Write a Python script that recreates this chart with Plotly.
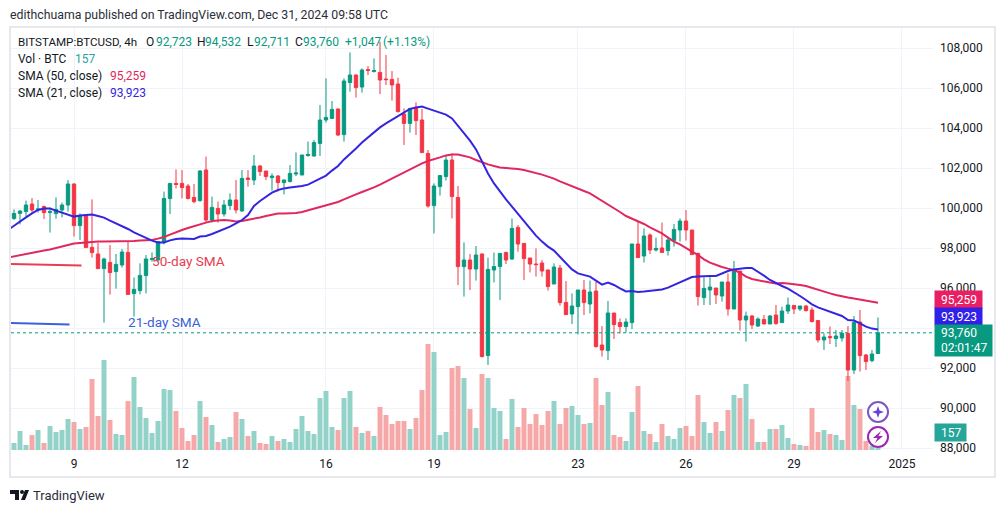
import pandas as pd
import plotly.graph_objects as go

opens = [99480,99730,99820,100200,99920,100070,99780,99720,99900,100150,101200,99120,99620,98030,97700,96970,97280,96820,97150,97780,95720,95870,96620,97430,97400,98300,100470,101230,101230,101100,100530,100370,101900,99400,99980,99700,100120,100400,99850,101500,101400,102100,101850,101520,101600,101270,101330,101700,101650,102620,102600,103230,104400,104480,104950,103670,106270,106650,106050,106920,106820,106780,106450,106430,106200,104700,104230,105030,104400,102730,100120,101070,101570,102400,100530,97070,97400,96950,97700,92620,96900,97070,97770,97450,99030,98230,97500,97200,97250,96900,96200,97000,95280,94700,95070,95900,95200,95850,93150,92870,94750,94270,94070,94270,98200,97600,98650,97900,98000,97870,98370,98900,99350,98900,97730,95520,95900,96000,95600,96300,94950,96850,94400,94600,94100,94430,94200,94650,94270,94850,95130,94950,95100,94900,94370,93400,93570,93470,93500,93730,91900,94300,92650,92370,92723]
highs = [99930,99900,100370,100500,100400,100120,100020,100530,100270,101400,101230,99730,99650,100430,98270,97520,98150,97700,97950,98320,96530,97230,97650,97780,98350,100820,101230,101930,101900,101200,101200,101900,102570,100570,100320,100400,100730,101400,101900,101900,102650,102150,101850,101730,101650,101430,102150,102780,102650,103320,103400,105150,106480,105350,104980,106480,107780,106680,106980,107100,107480,108320,107650,106850,106520,104980,104980,105280,104950,102900,101230,101650,102650,102730,101100,98280,97700,98100,97730,97520,97770,97730,97820,99480,99150,98230,97500,97980,97400,96930,97230,97150,96350,95730,95900,96400,96370,96320,94100,95350,94750,94480,94480,98200,99320,98980,98730,98520,99270,98570,99200,99480,99900,98900,97770,96530,96570,96000,96300,96730,97350,96850,94820,94650,94530,94650,94650,95150,95070,95530,95150,95100,95150,95030,94400,93730,94070,93900,93900,94100,94600,94900,92700,92900,94532]
lows = [99400,99180,99570,99770,99770,99450,98770,99470,99530,99820,98570,98400,98020,97520,96970,94270,95670,95970,97030,95680,94570,95680,95730,97320,97320,98180,99700,100980,100480,100430,100230,100320,99270,99270,99270,99570,99900,99730,99820,101070,101150,101600,101400,100870,100820,100680,101270,101600,101650,102570,102570,102600,104270,104450,103600,103320,105820,105520,105770,106650,106780,105700,106150,105370,104770,103150,103770,103650,102770,100020,98730,100620,101370,99480,96150,95570,95900,96370,92530,92150,96280,95400,97200,97400,97820,96400,96780,96570,96570,95870,96200,95120,94670,94200,93680,94650,94730,93020,92570,92400,93450,93730,93770,93950,97520,97270,97700,97820,97780,97620,98070,98320,98370,97650,95120,95150,95150,95200,95320,94620,94950,93870,93320,93950,94050,94200,94200,94150,94270,94700,94700,94850,94820,94280,93270,92900,93200,93050,93320,91350,91700,91820,91900,92280,92711]
closes = [99730,99850,100150,99900,99950,99770,99820,99930,100150,101200,99120,99620,98020,97770,96970,97450,96770,97180,97800,95680,95930,96630,97450,97470,98320,100480,101230,101180,101020,100480,100320,101850,99400,100030,99700,100150,100400,99900,101480,101430,102100,101820,101570,101600,101270,101400,101730,101750,102650,102680,103270,104400,104530,104930,103650,106350,106650,106020,106900,106880,106870,106400,106420,106150,104820,104230,104980,104370,102770,100100,101100,101620,102400,100570,97070,97400,96950,97650,92570,96930,97070,97730,97400,98980,98200,97470,97200,97170,96850,96070,97050,95270,94670,95100,95900,95270,95800,93070,92900,94750,94170,94070,94300,98200,97520,98600,97900,97980,97780,98400,98930,99350,98900,97670,95570,95980,96050,95650,96300,94950,96850,94400,94600,94150,94450,94200,94600,94230,94850,95150,94950,95100,94870,94320,93400,93550,93520,93600,93730,91900,94270,92620,92320,92700,93760]
volumes = [525,1425,375,1125,1500,525,1800,1350,1500,2325,2100,1575,1725,5325,2550,6750,2250,1200,1125,3675,5475,3225,2400,1275,2175,4575,4500,2925,1650,675,1125,3675,2475,1875,600,825,975,2850,2325,1050,1425,525,450,1050,675,825,600,1575,2550,1425,1200,3900,4425,1725,1500,3900,4425,1725,1275,1425,1050,3225,2625,1950,2175,2175,1575,2400,4500,7950,7350,1125,1350,6150,6300,5400,3075,1650,5700,5400,3150,2925,825,3825,1725,3150,1950,2700,1875,2925,3675,1950,3150,3300,2625,1950,2025,5400,3375,4350,1125,975,675,2850,4800,1425,1200,600,1950,1050,825,1650,1800,1050,4125,2100,1275,2100,1425,3000,4125,3900,4950,2325,600,600,1575,1575,1875,900,450,375,300,3150,1350,1500,1200,1125,750,5550,3375,3075,675,325,157]
sma21 = [98900,99120,99320,99530,99730,99900,99970,99970,99870,99770,99650,99570,99620,99650,99670,99600,99520,99370,99230,99120,98950,98780,98630,98480,98370,98280,98280,98380,98450,98480,98480,98450,98570,98600,98700,98820,98930,99070,99230,99400,99650,100100,100350,100570,100770,100900,100980,101020,101050,101100,101170,101320,101480,101620,101870,102100,102430,102730,102980,103270,103530,103770,104030,104230,104400,104600,104770,104950,105030,105070,104970,104870,104780,104670,104480,104120,103770,103370,102930,102320,101730,101230,100820,100430,100070,99700,99320,98980,98620,98320,98070,97870,97570,97270,96930,96730,96650,96570,96370,96170,96270,96150,95980,95830,95850,95800,95820,95850,95880,95930,96020,96150,96280,96450,96550,96580,96600,96600,96600,96730,96850,96930,96980,97000,97000,96820,96620,96400,96230,96100,95970,95800,95600,95400,95180,95030,94930,94820,94700,94600,94400,94370,94230,94070,93970,93923]
sma50 = [97520,97580,97670,97720,97770,97830,97880,97930,98000,98080,98170,98220,98250,98280,98330,98330,98330,98330,98330,98350,98350,98350,98370,98370,98400,98470,98550,98670,98800,98900,99000,99100,99180,99270,99350,99380,99400,99370,99320,99350,99400,99470,99530,99600,99670,99720,99730,99730,99750,99800,99880,99980,100070,100130,100220,100300,100430,100570,100680,100800,100900,101030,101170,101320,101470,101620,101770,101930,102100,102230,102350,102430,102530,102630,102680,102670,102600,102530,102400,102270,102180,102100,102030,102000,101980,101950,101900,101830,101770,101670,101570,101470,101330,101200,101080,100970,100850,100730,100550,100370,100180,100000,99800,99600,99470,99350,99200,99030,98870,98730,98520,98320,98180,97980,97820,97650,97430,97270,97150,97050,96970,96900,96770,96570,96450,96380,96320,96270,96230,96250,96230,96200,96150,96100,96000,95900,95820,95730,95650,95570,95520,95470,95420,95370,95320,95259]
tick_dates = ["2024-12-09", "2024-12-12", "2024-12-16", "2024-12-19", "2024-12-23", "2024-12-26", "2024-12-29", "2025-01-01"]
tick_labels = ["9", "12", "16", "19", "23", "26", "29", "2025"]
price_ticks = list(range(88000, 108001, 2000))
price_labels = ["88,000", "90,000", "92,000", "", "96,000", "98,000", "100,000", "102,000", "104,000", "106,000", "108,000"]
price_labels = ["88,000", "90,000", "92,000", "", "96,000", "98,000", "100,000", "102,000", "104,000", "106,000", "108,000"]
note50_x = ["2024-12-07 05:00", "2024-12-09 05:00"]
note50_y = [97200, 97130]
note21_x = ["2024-12-07 05:00", "2024-12-08 21:00"]
note21_y = [94250, 94180]

GREEN, RED = "#089981", "#f23645"
BLUE, PINK = "#3425e0", "#e0285f"
GRID = "#f0f3fa"
INK = "#131722"
FONT = "Roboto"

W, H = 1005, 513
L, R, T, B = 11, 933, 28, 450


def px(x):
    return (x - L) / (R - L)


def py(y):
    return (B - y) / (B - T)


times = pd.date_range("2024-12-07 08:00", periods=len(opens), freq="4h")
sma_times = pd.date_range("2024-12-07 04:00", periods=len(sma21), freq="4h")
step = pd.Timedelta(hours=4)
x_range = [times[0] - step * 0.5, times[0] + step * 153.17]

fig = go.Figure()
fig.add_bar(
    x=times, y=volumes, yaxis="y",
    marker=dict(color=["#93d2c9" if c >= o else "#f6a8a8" for o, c in zip(opens, closes)], line_width=0),
    showlegend=False,
)
fig.add_scatter(x=sma_times, y=sma50, yaxis="y2", mode="lines", line=dict(color=PINK, width=2), showlegend=False)
fig.add_scatter(x=sma_times, y=sma21, yaxis="y2", mode="lines", line=dict(color=BLUE, width=2), showlegend=False)
fig.add_scatter(x=note50_x, y=note50_y, yaxis="y2", mode="lines", line=dict(color="#e5404f", width=2), showlegend=False)
fig.add_scatter(x=note21_x, y=note21_y, yaxis="y2", mode="lines", line=dict(color="#3b62d8", width=2), showlegend=False)
fig.add_candlestick(
    x=times, open=opens, high=highs, low=lows, close=closes, yaxis="y2", whiskerwidth=0,
    increasing=dict(line=dict(color=GREEN, width=1), fillcolor=GREEN),
    decreasing=dict(line=dict(color=RED, width=1), fillcolor=RED),
    showlegend=False,
)

annotations = []


def text(x, y, s, color=INK, size=12):
    annotations.append(dict(xref="paper", yref="paper", x=px(x), y=py(y), text=s, showarrow=False,
                            xanchor="left", yanchor="middle", borderpad=0, borderwidth=0,
                            font=dict(family=FONT, size=size, color=color)))


text(10, 15, "edithchuama published on TradingView.com, Dec 31, 2024 09:58 UTC", "#2a2e39", 12.3)
text(18, 42, "BITSTAMP:BTCUSD, 4h", INK, 11.6)
for x, s, c in [(146, "O", INK), (156, "92,723", GREEN), (197, "H", INK), (205, "94,532", GREEN), (247, "L", INK),
                (254, "92,711", GREEN), (295, "C", INK), (303, "93,760", GREEN), (345, "+1,047", GREEN),
                (383, "(+1.13%)", GREEN)]:
    text(x, 42, s, c)
text(18, 59, "Vol · BTC")
text(75, 59, "157", "#26a69a")
text(18, 76, "SMA (50, close)")
text(110, 76, "95,259", PINK)
text(18, 93, "SMA (21, close)")
text(110, 93, "93,923", BLUE)
text(152, 261, "50-day SMA", "#e5404f", 13.6)
text(128, 322, "21-day SMA", "#3b62d8", 13.6)
text(33, 495, "TradingView", "#2a2e39", 13)


def tag(y, h, w, s, bg):
    annotations.append(dict(xref="paper", yref="paper", x=px(934), y=py(y), text=s, showarrow=False, xanchor="left",
                            yanchor="middle", width=w, height=h, align="left", bgcolor=bg, borderpad=0,
                            font=dict(family=FONT, size=12, color="white")))


tag(299.5, 17, 47, "  95,259", "#e91e63")
tag(316.5, 17, 47, "  93,923", "#3120e8")
tag(340.5, 31, 57, "  93,760<br>  02:01:47", GREEN)
tag(432.5, 17, 31, "  157", "#26a69a")


def path(points):
    return "M" + "L".join(f"{px(x):.5f},{py(y):.5f}" for x, y in points) + "Z"


shapes = [
    dict(type="rect", xref="paper", yref="paper", x0=px(10), x1=px(995), y0=py(27), y1=py(477),
         line=dict(color="#e6e8ee", width=2), fillcolor="rgba(0,0,0,0)", layer="below"),
    dict(type="line", xref="paper", yref="y2", x0=0, x1=1, y0=closes[-1], y1=closes[-1],
         line=dict(color=GREEN, width=1, dash="dot")),
    dict(type="path", xref="paper", yref="paper", path=path([(10, 490), (19, 490), (19, 500), (15, 500), (15, 494), (10, 494)]),
         fillcolor="#131722", line_width=0),
    dict(type="path", xref="paper", yref="paper", path=path([(25, 490), (29, 490), (25, 500), (21, 500)]),
         fillcolor="#131722", line_width=0),
    dict(type="circle", xref="paper", yref="paper", x0=px(20), x1=px(24), y0=py(490), y1=py(494),
         fillcolor="#131722", line_width=0),
    dict(type="circle", xref="paper", yref="paper", x0=px(868), x1=px(888), y0=py(402), y1=py(422),
         fillcolor="white", line=dict(color="#7e57c2", width=2)),
    dict(type="path", xref="paper", yref="paper",
         path=path([(878, 406), (879.5, 410.5), (884, 412), (879.5, 413.5), (878, 418), (876.5, 413.5), (872, 412), (876.5, 410.5)]),
         fillcolor="#6a3fd8", line_width=0),
    dict(type="circle", xref="paper", yref="paper", x0=px(868), x1=px(888), y0=py(427), y1=py(447),
         fillcolor="white", line=dict(color="#9c27b0", width=2)),
    dict(type="path", xref="paper", yref="paper",
         path=path([(881, 431), (873, 438), (877.5, 438), (875, 443), (883, 436), (878.5, 436)]),
         fillcolor="#9c27b0", line_width=0),
]

fig.update_layout(
    width=W, height=H, autosize=False,
    margin=dict(l=L, r=W - R, t=T, b=H - B, pad=0),
    paper_bgcolor="white", plot_bgcolor="white",
    bargap=0.17, boxgap=0.2,
    hovermode=False,
    showlegend=False,
    font=dict(family=FONT, size=12, color=INK),
    annotations=annotations,
    shapes=shapes,
    xaxis=dict(
        type="date", range=list(x_range), rangeslider=dict(visible=False),
        tickmode="array", tickvals=tick_dates, ticktext=tick_labels,
        showgrid=True, gridcolor=GRID, gridwidth=1, zeroline=False, showline=False, ticks="",
        tickangle=0, ticklabelstandoff=5, tickfont=dict(family=FONT, size=12, color=INK),
    ),
    yaxis=dict(range=[0, 31650], visible=False, showgrid=False, zeroline=False, fixedrange=True),
    yaxis2=dict(
        overlaying="y", side="right", range=[87900, 109000], tickmode="array", tickvals=price_ticks,
        ticktext=price_labels, showgrid=True, gridcolor=GRID, gridwidth=1, zeroline=False, showline=False, ticks="",
        ticklabelstandoff=6, tickfont=dict(family=FONT, size=12, color=INK),
    ),
)

fig.write_html("out.html", config={"displayModeBar": False},
               post_script="document.body.style.margin='0';document.body.style.overflow='hidden';")
